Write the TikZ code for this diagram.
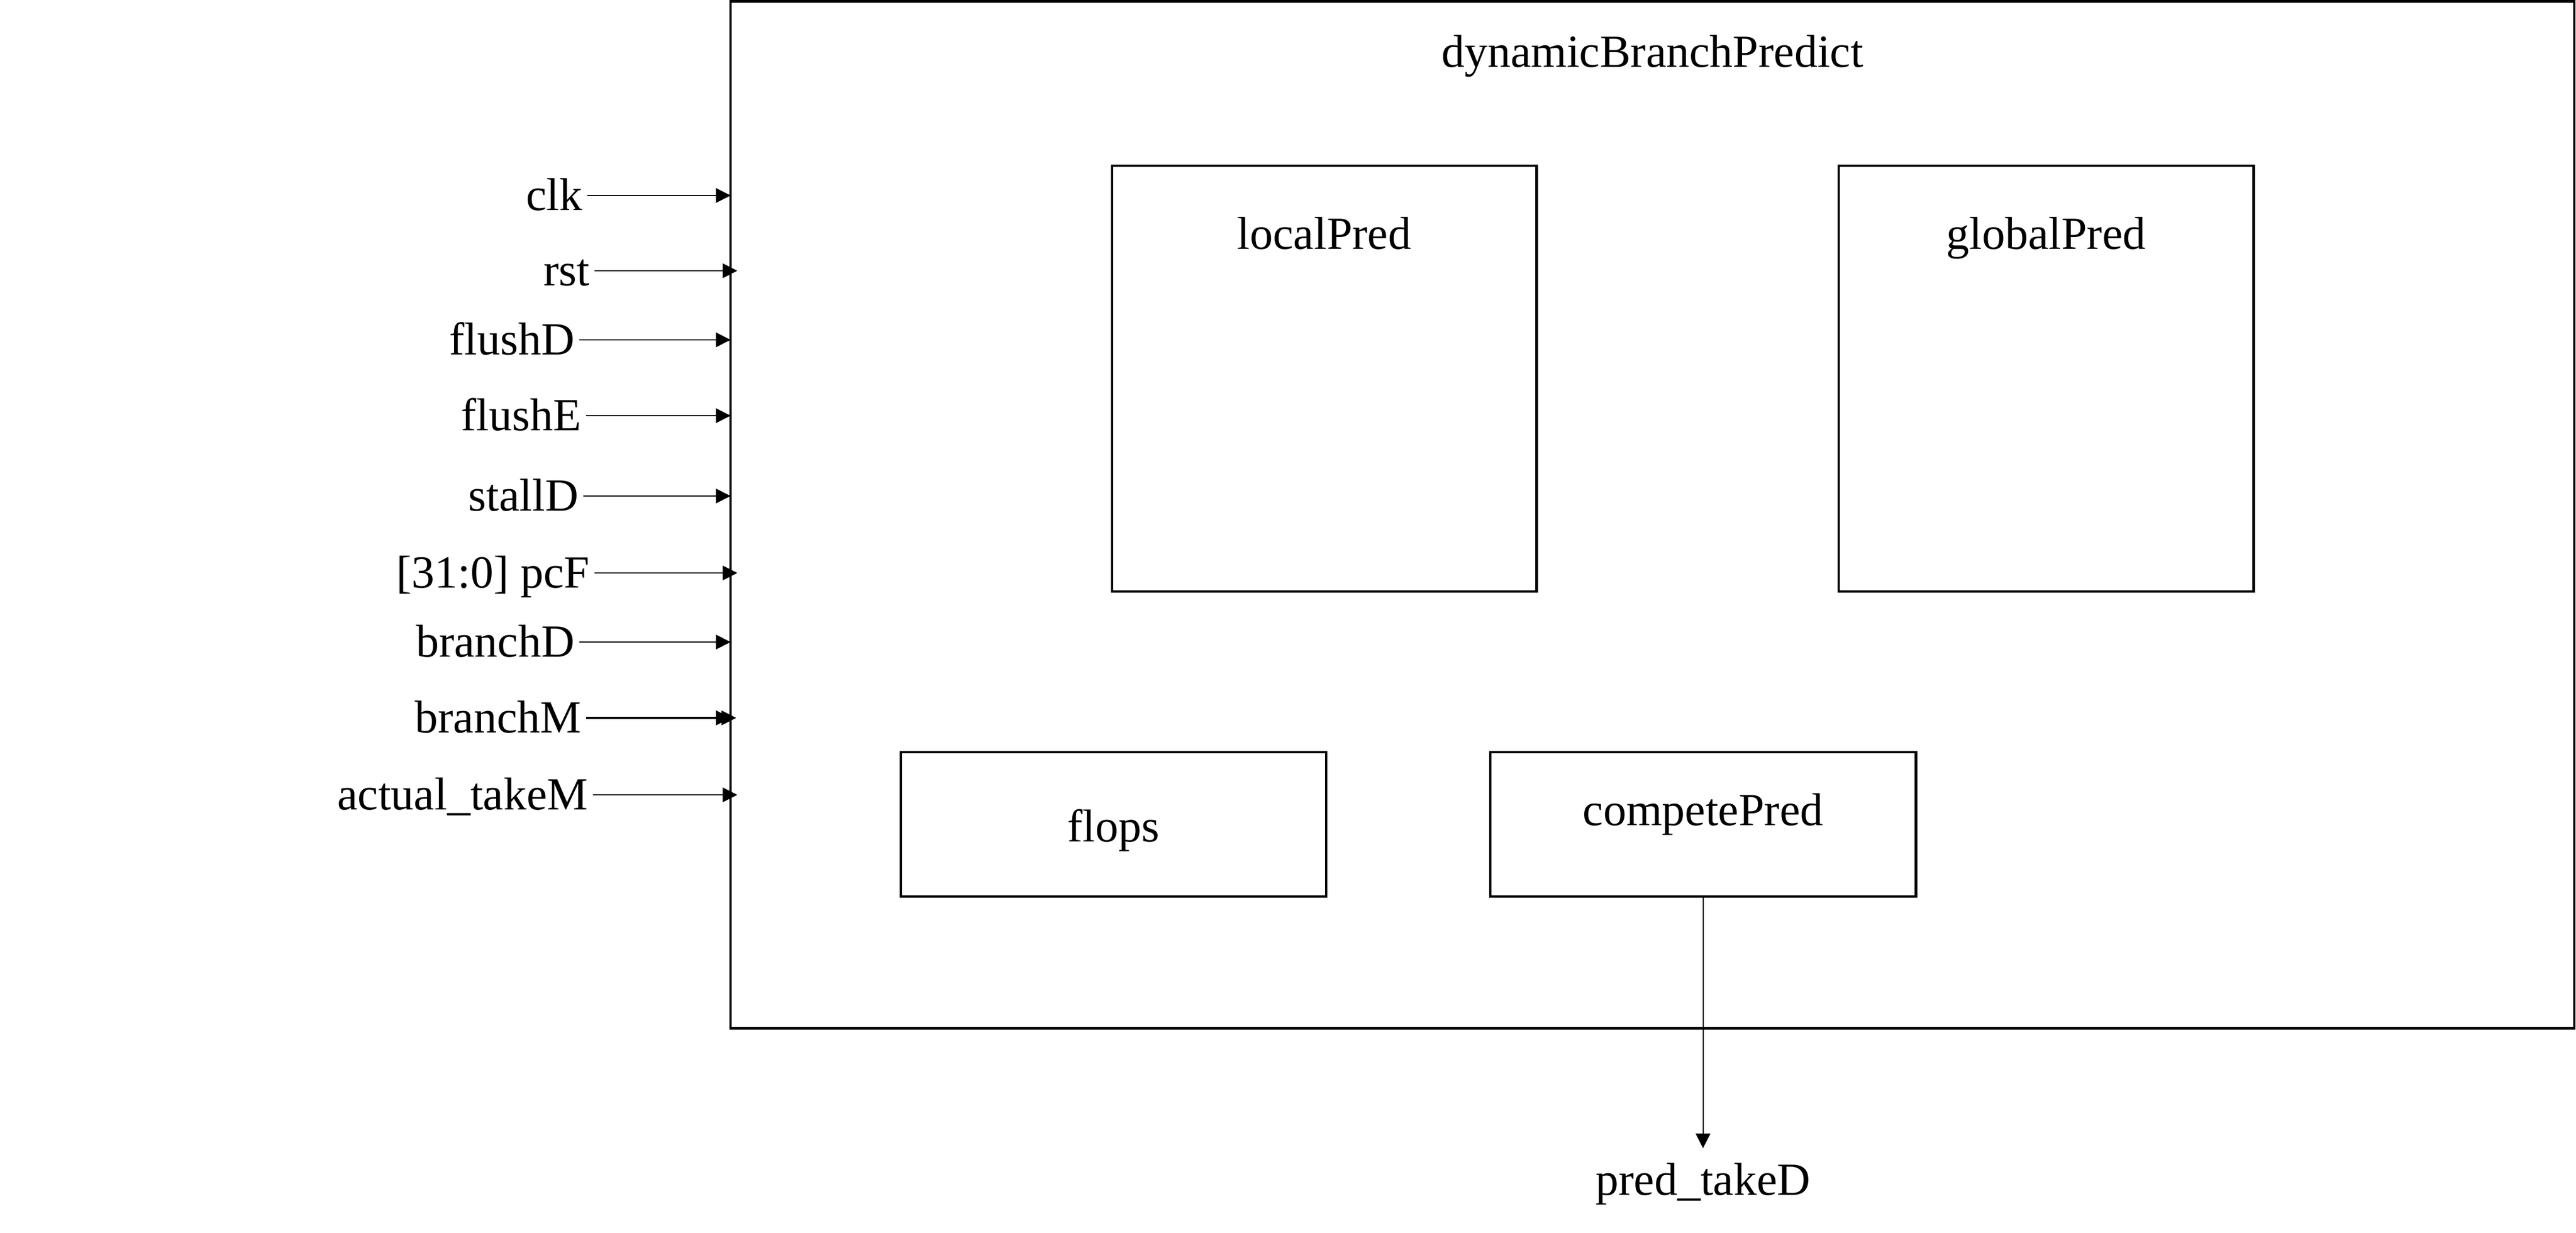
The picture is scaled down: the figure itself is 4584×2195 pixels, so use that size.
\documentclass[tikz,border=0pt]{standalone}
\usepackage{fontspec}
\setmainfont{Liberation Serif}
\usetikzlibrary{arrows.meta}
\begin{document}
\begin{tikzpicture}[x=0.01cm,y=-0.01cm,
  font=\fontsize{23.3pt}{28pt}\selectfont,
  blk/.style={draw, line width=1.28pt, inner sep=0pt},
  pin/.style={anchor=east, inner xsep=0.08cm, inner ysep=0pt, text height=0.52cm, text depth=0cm},
  sig/.style={line width=0.55pt, -{Triangle[length=0.26cm,width=0.26cm]}},
  lbl/.style={anchor=base, inner sep=0pt}]
\useasboundingbox (0,0) rectangle (4584,2195);

% outer module
\node[blk, minimum width=32.79cm, minimum height=18.27cm] (dbp) at (2940.5,916.5) {};
\node[lbl] (dbpT) at (2940.5,120) {dynamicBranchPredict};

% sub-blocks
\node[blk, minimum width=7.55cm, minimum height=7.58cm] (local) at (2356.5,674) {};
\node[lbl] (localT) at (2356.5,444) {localPred};
\node[blk, minimum width=7.38cm, minimum height=7.58cm] (global) at (3641,674) {};
\node[lbl] (globalT) at (3641,444) {globalPred};
\node[blk, minimum width=7.57cm, minimum height=2.57cm] (flops) at (1981.5,1467.5) {};
\node[lbl] (flopsT) at (1981.5,1498) {flops};
\node[blk, minimum width=7.57cm, minimum height=2.57cm] (compete) at (3030.5,1467.5) {};
\node[lbl] (competeT) at (3030.5,1469) {competePred};

% inputs
\node[pin] (clk) at (1045,348) {clk};
\coordinate (clkE) at (1300,348);
\node[pin] (rst) at (1058,482) {rst};
\coordinate (rstE) at (1312,482);
\node[pin] (flushD) at (1031,605) {flushD};
\coordinate (flushDE) at (1300,605);
\node[pin] (flushE) at (1043,740) {flushE};
\coordinate (flushEE) at (1300,740);
\node[pin] (stallD) at (1038,883) {stallD};
\coordinate (stallDE) at (1300,883);
\node[pin] (pcF) at (1058,1020) {[31:0] pcF};
\coordinate (pcFE) at (1312,1020);
\node[pin] (branchD) at (1031,1143) {branchD};
\coordinate (branchDE) at (1300,1143);
\node[pin] (branchM) at (1043,1278) {branchM};
\coordinate (branchME) at (1300,1278);
\coordinate (branchME2) at (1310,1278);
\node[pin] (actual) at (1055,1415) {actual\_takeM};
\coordinate (actualE) at (1312,1415);

\draw[sig] (clk) -- (clkE);
\draw[sig] (rst) -- (rstE);
\draw[sig] (flushD) -- (flushDE);
\draw[sig] (flushE) -- (flushEE);
\draw[sig] (stallD) -- (stallDE);
\draw[sig] (pcF) -- (pcFE);
\draw[sig] (branchD) -- (branchDE);
\draw[sig, line width=1pt] (branchM) -- (branchME);
\draw[sig] (branchM) -- (branchME2);
\draw[sig] (actual) -- (actualE);

% output
\node[lbl] (pred) at (3030.5,2127) {pred\_takeD};
\coordinate (predIn) at (3030.5,2044);
\draw[sig] (compete.south) -- (predIn);
\end{tikzpicture}
\end{document}
